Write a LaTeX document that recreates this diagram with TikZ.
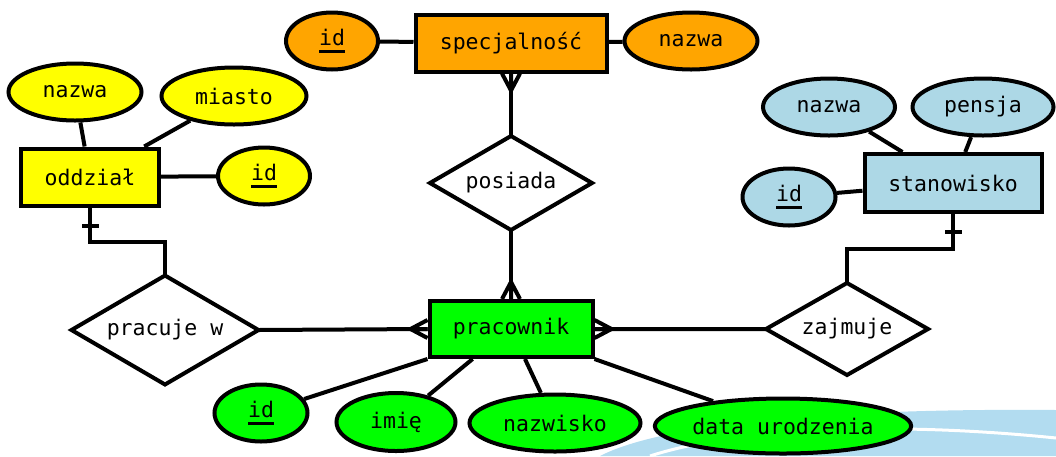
\documentclass[tikz,border=0pt]{standalone}
\usepackage{fontspec}
\setmainfont{DejaVu Sans Mono}
\usetikzlibrary{shapes.geometric, positioning}
\definecolor{specfill}{RGB}{255,165,0}
\definecolor{oddzialfill}{RGB}{255,255,0}
\definecolor{stanfill}{RGB}{173,216,230}
\definecolor{pracfill}{RGB}{0,255,0}
\definecolor{swoosh}{RGB}{178,220,240}
\tikzset{
    x=1pt, y=-1pt, % one unit is one pixel of the slide, y goes down
    every node/.style={font=\fontsize{21.5}{25}\selectfont}, % text size of all labels
    entity/.style={draw, rectangle, inner sep=0pt}, % tables
    attribute/.style={draw, ellipse, inner sep=0pt, minimum height=57}, % columns
    relation/.style={draw, diamond, aspect=1.7, fill=white, inner sep=0pt, outer sep=0pt}, % links between tables
    many/.pic={\draw (0,-9) -- (17,0) (0,0) -- (17,0) (0,9) -- (17,0);}, % crow's foot
    one/.pic={\draw (18,-8.5) -- (18,8.5);}, % single bar
}
\newcommand{\pk}[1]{\setbox0=\hbox{#1}\leavevmode\rlap{\rule[-7pt]{\wd0}{3pt}}\box0}

\begin{document}
\begin{tikzpicture}[line width=4pt]
        \useasboundingbox (0,0) rectangle (1056,456);
        % slide background
        \fill[swoosh] (600,456) .. controls (660,425) and (820,408) .. (1056,410) -- (1056,456) -- cycle;
        \draw[white, line width=3pt] (650,456) .. controls (730,430) and (880,420) .. (1056,438);

        \node[entity, fill=specfill, minimum width=191, minimum height=57] (spec) at (511,43) {specjalność};
        \node[attribute, fill=specfill, minimum width=92] (specid) at (332,41) {\pk{id}};
        \node[attribute, fill=specfill, minimum width=133] (specnazwa) at (691,41) {nazwa};

        \node[entity, fill=oddzialfill, minimum width=138, minimum height=57] (oddzial) at (90,177) {oddział};
        \node[attribute, fill=oddzialfill, minimum width=133] (odnazwa) at (75,92) {nazwa};
        \node[attribute, fill=oddzialfill, minimum width=145] (odmiasto) at (234,96) {miasto};
        \node[attribute, fill=oddzialfill, minimum width=92] (odid) at (264,176) {\pk{id}};

        \node[entity, fill=stanfill, minimum width=177, minimum height=58] (stanowisko) at (953,183) {stanowisko};
        \node[attribute, fill=stanfill, minimum width=132] (stnazwa) at (829,107) {nazwa};
        \node[attribute, fill=stanfill, minimum width=141] (stpensja) at (983,107) {pensja};
        \node[attribute, fill=stanfill, minimum width=93] (stid) at (789,197) {\pk{id}};

        \node[entity, fill=pracfill, minimum width=163, minimum height=56] (pracownik) at (511,329) {pracownik};
        \node[attribute, fill=pracfill, minimum width=93] (prid) at (261,413) {\pk{id}};
        \node[attribute, fill=pracfill, minimum width=119, minimum height=58] (primie) at (396,422) {imię};
        \node[attribute, fill=pracfill, minimum width=171] (prnazwisko) at (555,423) {nazwisko};
        \node[attribute, fill=pracfill, minimum width=251, minimum height=55] (prdata) at (783,426) {data urodzenia};

        \node[relation, minimum width=162, minimum height=94] (posiada) at (511,183) {posiada};
        \node[relation, minimum width=187, minimum height=109] (pracuje) at (165,330) {pracuje w};
        \node[relation, minimum width=162, minimum height=92] (zajmuje) at (847,329) {zajmuje};

        % attributes
        \draw (specid) -- (spec) (spec) -- (specnazwa);
        \draw (odnazwa) -- (oddzial) (odmiasto) -- (oddzial) (odid) -- (oddzial);
        \draw (stnazwa) -- (stanowisko) (stpensja) -- (stanowisko) (stid) -- (stanowisko);
        \draw (pracownik.south west) -- (prid)
              (pracownik.-142) -- (primie)
              (pracownik.-65) -- (prnazwisko)
              (pracownik.south east) -- (prdata);

        % relations
        \draw (spec.south) -- (posiada.north) (posiada.south) -- (pracownik.north);
        \draw (pracuje.east) -- (pracownik.west) (pracownik.east) -- (zajmuje.west);
        \draw (oddzial.south) -- ++(0,34) -| (pracuje.north);
        \draw (stanowisko.south) -- ++(0,35) -| (zajmuje.north);
        \pic[rotate=-90] at (spec.south) {many};
        \pic[rotate=90] at (pracownik.north) {many};
        \pic[rotate=180] at (pracownik.west) {many};
        \pic at (pracownik.east) {many};
        \pic[rotate=-90] at (oddzial.south) {one};
        \pic[rotate=-90] at (stanowisko.south) {one};
    \end{tikzpicture}
\end{document}
